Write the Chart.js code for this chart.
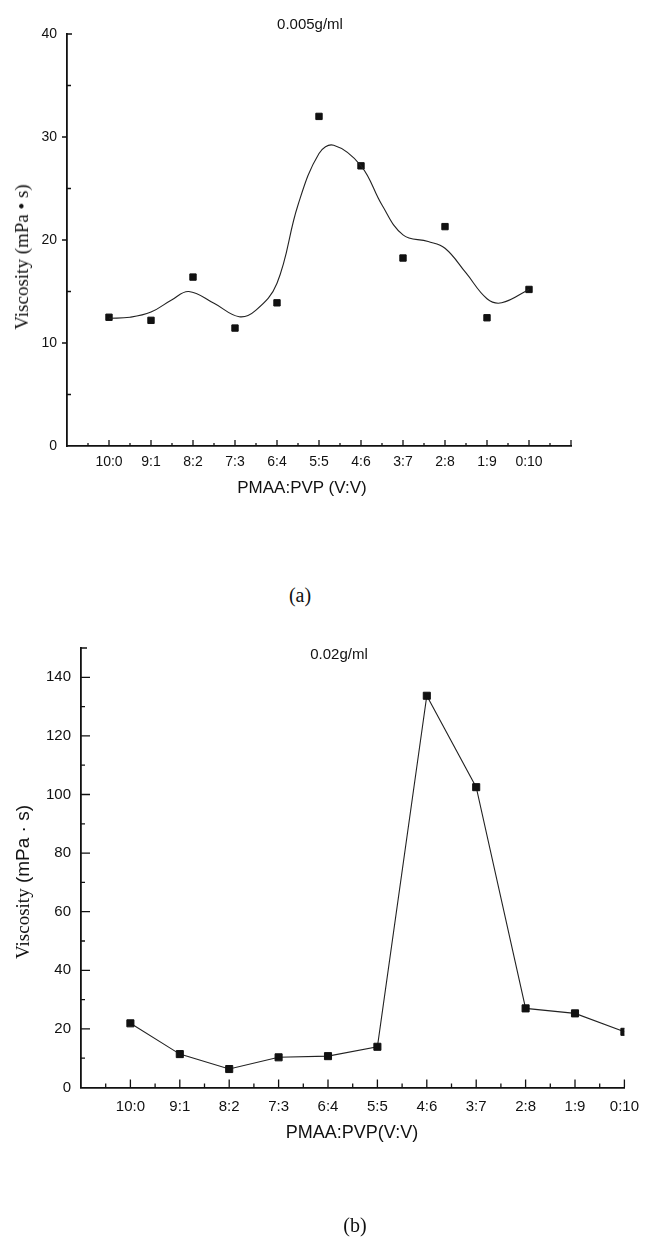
<!DOCTYPE html>
<html>
<head>
<meta charset="utf-8">
<script src="https://cdn.jsdelivr.net/npm/chart.js@4/dist/chart.umd.min.js"></script>
<style>
  body { margin: 0; background: #fff; }
  #page { position: relative; width: 649px; height: 1239px; background: #fff; overflow: hidden; }
  canvas { position: absolute; left: 0; }
  .txt { position: absolute; white-space: nowrap; color: #111; transform: translate(-50%, -50%); }
  .sans { font-family: "Liberation Sans", Arial, sans-serif; }
  .serif { font-family: "Liberation Serif", "Times New Roman", serif; }
  .rot { transform: translate(-50%, -50%) rotate(-90deg); }
</style>
</head>
<body>
<div id="page">
  <canvas id="chartA" width="649" height="520" style="top:0"></canvas>
  <canvas id="chartB" width="649" height="619" style="top:620px"></canvas>

  <div class="txt sans" style="left:310px; top:23px; font-size:15px;">0.005g/ml</div>
  <div class="txt serif rot" style="left:22px; top:257px; font-size:19px;">Viscosity (mPa • s)</div>
  <div class="txt sans" style="left:302px; top:488px; font-size:17px;">PMAA:PVP (V:V)</div>
  <div class="txt serif" style="left:300px; top:595px; font-size:20px;">(a)</div>

  <div class="txt sans" style="left:339px; top:653px; font-size:15px;">0.02g/ml</div>
  <div class="txt rot" style="left:23px; top:882px; font-size:19px;"><span class="serif">Viscosity</span><span class="sans"> (mPa · s)</span></div>
  <div class="txt sans" style="left:352px; top:1132px; font-size:18px;">PMAA:PVP(V:V)</div>
  <div class="txt serif" style="left:355px; top:1225px; font-size:20px;">(b)</div>
</div>

<script>
// categories (PMAA:PVP volume ratio)
const ratios = ['10:0', '9:1', '8:2', '7:3', '6:4', '5:5', '4:6', '3:7', '2:8', '1:9', '0:10']

const viscA = [12.5, 12.2, 16.4, 11.45, 13.9, 32.0, 27.2, 18.25, 21.3, 12.45, 15.2]
const fitXA = [1, 1.5, 2, 2.5, 2.9, 3.5, 4.1, 4.5, 5, 5.5, 6, 6.35, 7, 7.5, 8, 8.6, 9, 9.5, 10, 10.35, 11]
const fitYA = [12.4, 12.5, 13.0, 14.2, 15.0, 13.85, 12.55, 13.2, 15.8, 23.4, 28.4, 29.2, 27.2, 23.4, 20.5, 19.85, 19.2, 16.8, 14.3, 13.9, 15.2]

// (b) 0.02 g/ml
const viscB = [21.9, 11.4, 6.3, 10.3, 10.7, 13.9, 133.7, 102.5, 27.0, 25.3, 19.0]

const tickFontA = { family: '"Liberation Sans", Arial, sans-serif', size: 14 }
const tickFontB = { family: '"Liberation Sans", Arial, sans-serif', size: 15 }

// draws small tick marks (inside or outside the axis) using the chart scales
const tickMarks = {
  id: 'tickMarks',
  afterDraw(chart, args, opts) {
    const ctx = chart.ctx
    const xs = chart.scales.x, ys = chart.scales.y
    ctx.save()
    ctx.strokeStyle = '#111'
    ctx.lineWidth = 1.3
    ctx.beginPath()
    // x ticks
    for (let v = opts.x.step; v <= xs.max + 1e-9; v += opts.x.step) {
      const px = xs.getPixelForValue(v)
      const major = Math.abs(v - Math.round(v)) < 1e-6
      const len = major ? opts.x.major : opts.x.minor
      ctx.moveTo(px, xs.top)
      ctx.lineTo(px, xs.top - len)
    }
    // y ticks
    for (let v = ys.min; v <= ys.max + 1e-9; v += opts.y.step) {
      const py = ys.getPixelForValue(v)
      const major = v % opts.y.majorEvery === 0
      let len = major ? opts.y.major : opts.y.minor
      if (v === ys.max) len = opts.y.end
      if (v === ys.min) continue
      ctx.moveTo(ys.right, py)
      ctx.lineTo(ys.right + len, py)
    }
    ctx.stroke()
    ctx.restore()
  }
}

new Chart(document.getElementById('chartA'), {
  type: 'scatter',
  data: {
    datasets: [
      {
        type: 'line',
        data: fitXA.map((x, i) => ({ x: x, y: fitYA[i] })),
        borderColor: '#222',
        borderWidth: 1.1,
        pointRadius: 0,
        tension: 0.4,
        fill: false
      },
      {
        data: viscA.map((v, i) => ({ x: i + 1, y: v })),
        pointStyle: 'rect',
        pointRadius: 4.5,
        pointBackgroundColor: '#111',
        pointBorderColor: '#111',
        pointBorderWidth: 1
      }
    ]
  },
  options: {
    responsive: false,
    animation: false,
    layout: { padding: { top: 34, right: 78, left: 0, bottom: 0 } },
    plugins: {
      legend: { display: false },
      tooltip: { enabled: false },
      tickMarks: {
        x: { step: 0.5, major: 6, minor: 3 },
        y: { step: 5, majorEvery: 10, major: -5, minor: 4, end: 5 }
      }
    },
    scales: {
      x: {
        type: 'linear', min: 0, max: 12,
        afterFit: s => { s.height = 74 },
        grid: { display: false, drawTicks: false },
        border: { display: true, color: '#111', width: 1.8 },
        ticks: {
          stepSize: 1, autoSkip: false, maxRotation: 0, padding: 8,
          color: '#111', font: tickFontA,
          callback: v => ratios[v - 1] || ''
        }
      },
      y: {
        min: 0, max: 40,
        afterFit: s => { s.width = 67 },
        grid: { display: false, drawTicks: false },
        border: { display: true, color: '#111', width: 1.8 },
        ticks: {
          stepSize: 5, padding: 10, color: '#111', font: tickFontA,
          callback: v => (v % 10 === 0 ? v : '')
        }
      }
    }
  },
  plugins: [tickMarks]
})

new Chart(document.getElementById('chartB'), {
  type: 'line',
  data: {
    datasets: [
      {
        data: viscB.map((v, i) => ({ x: i + 1, y: v })),
        borderColor: '#222',
        borderWidth: 1.1,
        tension: 0,
        pointStyle: 'rect',
        pointRadius: 5,
        pointBackgroundColor: '#111',
        pointBorderColor: '#111',
        pointBorderWidth: 1,
        fill: false
      }
    ]
  },
  options: {
    responsive: false,
    animation: false,
    layout: { padding: { top: 28, right: 18, left: 0, bottom: 0 } },
    plugins: {
      legend: { display: false },
      tooltip: { enabled: false },
      tickMarks: {
        x: { step: 0.5, major: 8, minor: 4 },
        y: { step: 10, majorEvery: 20, major: 9, minor: 4, end: 6 }
      }
    },
    scales: {
      x: {
        type: 'linear', min: 0, max: 11,
        afterFit: s => { s.height = 151.5 },
        grid: { display: false, drawTicks: false },
        border: { display: true, color: '#111', width: 1.8 },
        ticks: {
          stepSize: 1, autoSkip: false, maxRotation: 0, padding: 10,
          color: '#111', font: tickFontB,
          callback: v => ratios[v - 1] || ''
        }
      },
      y: {
        min: 0, max: 150,
        afterFit: s => { s.width = 81 },
        grid: { display: false, drawTicks: false },
        border: { display: true, color: '#111', width: 1.8 },
        ticks: {
          stepSize: 10, padding: 10, color: '#111', font: tickFontB,
          callback: v => (v % 20 === 0 && v < 150 ? v : '')
        }
      }
    }
  },
  plugins: [tickMarks]
})
</script>
</body>
</html>
